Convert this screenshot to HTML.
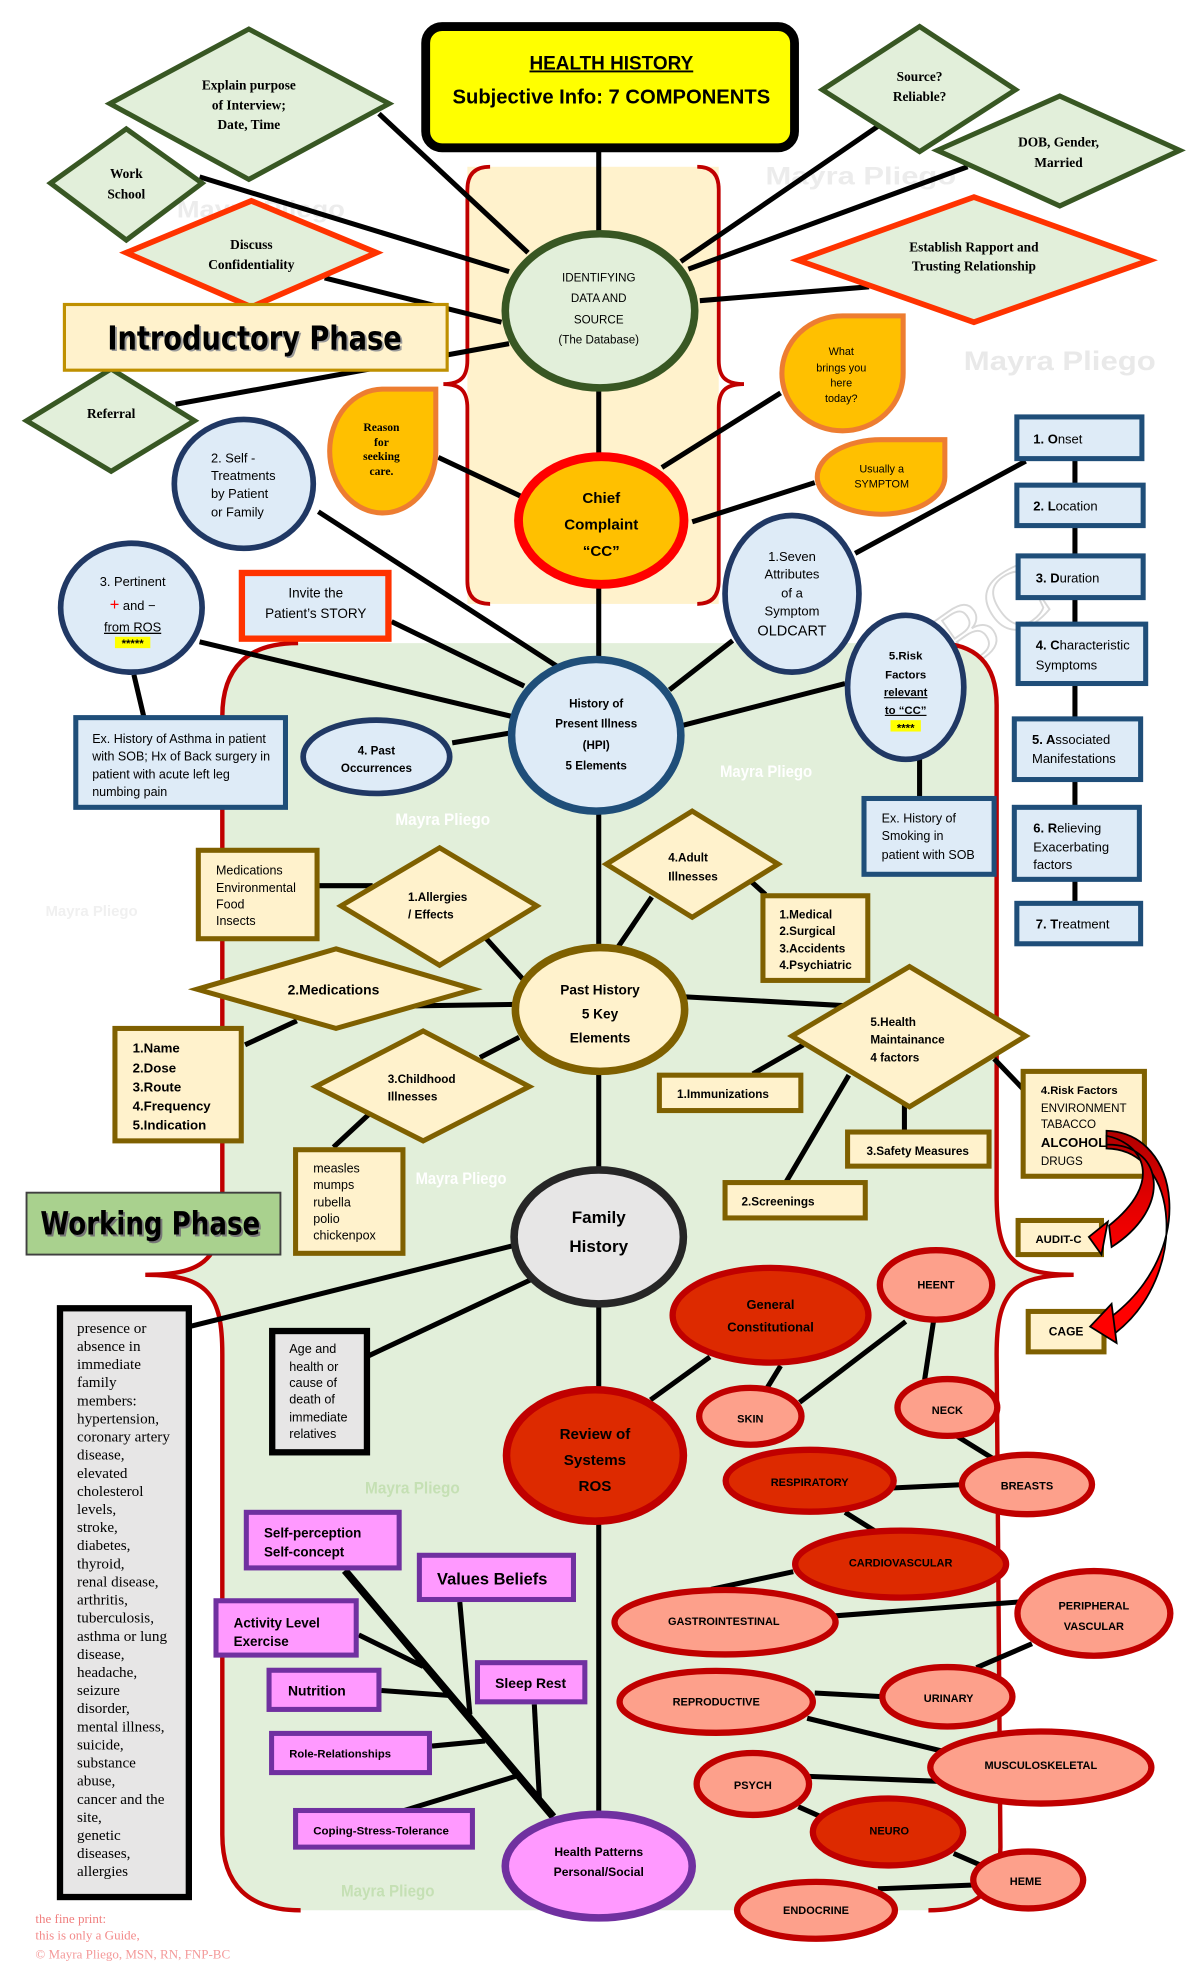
<!DOCTYPE html>
<html><head><meta charset="utf-8"><style>
html,body{margin:0;padding:0;background:#fff;}
svg{display:block;}
text{font-family:"Liberation Sans",sans-serif;fill:#000;}
.sr{font-family:"Liberation Serif",serif;}
.c{text-anchor:middle;}
.b{font-weight:bold;}
</style></head><body>
<svg width="1200" height="1976" viewBox="0 0 950 1564" preserveAspectRatio="none" xmlns="http://www.w3.org/2000/svg">
<defs>
<linearGradient id="ag" x1="0" y1="895" x2="0" y2="1000" gradientUnits="userSpaceOnUse">
<stop offset="0" stop-color="#B00000"/>
<stop offset="0.5" stop-color="#E00000"/>
<stop offset="1" stop-color="#FF0000"/>
</linearGradient>
</defs>
<rect x="0" y="0" width="950" height="1564" fill="#fff"/>

<!-- faint watermarks on white -->
<g font-weight="bold">
<text x="606" y="146" font-size="20" style="fill:#ececec" textLength="151" lengthAdjust="spacingAndGlyphs">Mayra Pliego</text>
<text x="763" y="293" font-size="21" style="fill:#e9e9e9" textLength="152" lengthAdjust="spacingAndGlyphs">Mayra Pliego</text>
<text x="140" y="172" font-size="19" style="fill:#ececec" textLength="133" lengthAdjust="spacingAndGlyphs">Mayra Pliego</text>
<text x="36" y="725" font-size="12" style="fill:#f0f0f0" textLength="73" lengthAdjust="spacingAndGlyphs">Mayra Pliego</text>
</g>
<text x="735" y="520" font-size="70" transform="rotate(-35 770 490)" style="fill:none;stroke:#d8d8d8;stroke-width:1.5" class="sr">BC</text>

<!-- beige top region -->
<rect x="370" y="132" width="199" height="346" fill="#FFF2CC"/>
<path d="M388,132 Q370,132 370,150 L370,285 C370,298 365,304 351,304 C365,304 370,310 370,323 L370,460 Q370,478 388,478" fill="none" stroke="#C00000" stroke-width="3"/>
<path d="M552,132 Q569,132 569,150 L569,285 C569,298 574,304 589,304 C574,304 569,310 569,323 L569,460 Q569,478 552,478" fill="none" stroke="#C00000" stroke-width="3"/>

<!-- green working region -->
<path d="M236,509 L740,509 Q789,509 789,558 L789,945 C789,995 800,1009 850,1009 C800,1009 789,1025 789,1072 L792,1462 Q792,1512 735,1512 L238,1512 Q176,1512 176,1452 L176,1072 C176,1025 165,1009 115,1009 C165,1009 176,995 176,945 L176,567 Q176,509 236,509 Z" fill="#E2EFDA"/>
<path d="M236,509 Q176,509 176,567 L176,945 C176,995 165,1009 115,1009 C165,1009 176,1025 176,1072 L176,1452 Q176,1512 238,1512" fill="none" stroke="#C00000" stroke-width="3.5"/>
<path d="M740,509 Q789,509 789,558 L789,945 C789,995 800,1009 850,1009 C800,1009 789,1025 789,1072 L792,1462 Q792,1512 735,1512" fill="none" stroke="#C00000" stroke-width="3.5"/>

<g font-weight="bold">
<text x="570" y="615" font-size="13" style="fill:#fff" textLength="73" lengthAdjust="spacingAndGlyphs">Mayra Pliego</text>
<text x="313" y="653" font-size="13" style="fill:#fff" textLength="75" lengthAdjust="spacingAndGlyphs">Mayra Pliego</text>
<text x="329" y="937" font-size="13" style="fill:#fff" textLength="72" lengthAdjust="spacingAndGlyphs">Mayra Pliego</text>
<text x="289" y="1182" font-size="13" style="fill:#c5e0b4" textLength="75" lengthAdjust="spacingAndGlyphs">Mayra Pliego</text>
<text x="270" y="1501" font-size="13" style="fill:#c5e0b4" textLength="74" lengthAdjust="spacingAndGlyphs">Mayra Pliego</text>
</g>

<!-- connector lines -->
<g stroke="#000" stroke-width="4" fill="none">
<line x1="474" y1="118" x2="474" y2="185"/>
<line x1="300" y1="90" x2="418" y2="200"/>
<line x1="158" y1="140" x2="403" y2="215"/>
<line x1="257" y1="220" x2="397" y2="255"/>
<line x1="139" y1="320" x2="403" y2="272"/>
<line x1="695" y1="100" x2="539" y2="207"/>
<line x1="766" y1="132" x2="545" y2="213"/>
<line x1="688" y1="227" x2="554" y2="238"/>
<line x1="474" y1="305" x2="474" y2="362"/>
<line x1="347" y1="362" x2="415" y2="394"/>
<line x1="618" y1="311" x2="524" y2="370"/>
<line x1="645" y1="382" x2="548" y2="413"/>
<line x1="474" y1="462" x2="474" y2="524"/>
<line x1="252" y1="405" x2="442" y2="528"/>
<line x1="158" y1="508" x2="405" y2="567"/>
<line x1="106" y1="534" x2="114" y2="568"/>
<line x1="310" y1="492" x2="415" y2="543"/>
<line x1="358" y1="588" x2="405" y2="580"/>
<line x1="580" y1="507" x2="530" y2="546"/>
<line x1="669" y1="541" x2="541" y2="574"/>
<line x1="728" y1="601" x2="728" y2="632"/>
<line x1="812" y1="365" x2="677" y2="438"/>
<line x1="851" y1="345" x2="851" y2="730"/>
<line x1="474" y1="640" x2="474" y2="750"/>
<line x1="252" y1="701" x2="295" y2="701"/>
<line x1="385" y1="743" x2="414" y2="775"/>
<line x1="266" y1="797" x2="408" y2="795"/>
<line x1="194" y1="827" x2="235" y2="808"/>
<line x1="380" y1="837" x2="411" y2="821"/>
<line x1="292" y1="882" x2="264" y2="908"/>
<line x1="516" y1="710" x2="489" y2="750"/>
<line x1="595" y1="698" x2="606" y2="708"/>
<line x1="543" y1="789" x2="669" y2="796"/>
<line x1="636" y1="827" x2="596" y2="850"/>
<line x1="672" y1="851" x2="622" y2="936"/>
<line x1="716" y1="872" x2="716" y2="896"/>
<line x1="787" y1="838" x2="810" y2="862"/>
<line x1="474" y1="848" x2="474" y2="926"/>
<line x1="150" y1="1050" x2="406" y2="986"/>
<line x1="292" y1="1073" x2="420" y2="1013"/>
<line x1="474" y1="1032" x2="474" y2="1100"/>
<line x1="515" y1="1108" x2="562" y2="1074"/>
<line x1="474" y1="1204" x2="474" y2="1436"/>
<line x1="618" y1="1081" x2="607" y2="1099"/>
<line x1="717" y1="1046" x2="633" y2="1110"/>
<line x1="739" y1="1046" x2="732" y2="1092"/>
<line x1="758" y1="1137" x2="787" y2="1155"/>
<line x1="700" y1="1178" x2="765" y2="1175"/>
<line x1="669" y1="1197" x2="693" y2="1212"/>
<line x1="628" y1="1244" x2="563" y2="1258"/>
<line x1="660" y1="1279" x2="806" y2="1268"/>
<line x1="817" y1="1301" x2="773" y2="1320"/>
<line x1="645" y1="1340" x2="700" y2="1343"/>
<line x1="639" y1="1360" x2="746" y2="1386"/>
<line x1="640" y1="1406" x2="746" y2="1410"/>
<line x1="632" y1="1430" x2="650" y2="1438"/>
<line x1="755" y1="1467" x2="778" y2="1477"/>
<line x1="695" y1="1495" x2="771" y2="1492"/>
<line x1="273" y1="1243" x2="438" y2="1438" stroke-width="6"/>
<line x1="284" y1="1294" x2="335" y2="1319"/>
<line x1="364" y1="1268" x2="372" y2="1357"/>
<line x1="302" y1="1338" x2="356" y2="1342"/>
<line x1="423" y1="1349" x2="427" y2="1423"/>
<line x1="342" y1="1382" x2="384" y2="1378"/>
<line x1="320" y1="1433" x2="408" y2="1406"/>
</g>

<!-- title -->
<rect x="337" y="21" width="292" height="96" rx="13" fill="#FFFF00" stroke="#000" stroke-width="7"/>
<text x="484" y="55" font-size="15" class="c b" style="text-decoration:underline">HEALTH HISTORY</text>
<text x="484" y="82" font-size="16" class="c b">Subjective Info: 7 COMPONENTS</text>

<!-- green diamonds -->
<g fill="#E2EFDA" stroke="#385723" stroke-width="4">
<polygon points="197,23 308,82 197,142 87,82"/>
<polygon points="100,102 160,145 100,190 40,145"/>
<polygon points="88,292 154,333 88,373 21,333"/>
<polygon points="728,21 804,71 728,120 651,71"/>
<polygon points="839,76 934,119 839,163 742,119"/>
</g>
<g fill="#E2EFDA" stroke="#FF3300" stroke-width="4.5">
<polygon points="199,159 298,200 199,243 100,200"/>
<polygon points="771,156 910,206 771,255 632,206"/>
</g>
<g class="sr" font-weight="bold" font-size="10.6" text-anchor="middle">
<text class="sr" x="197" y="71">Explain purpose</text>
<text class="sr" x="197" y="86.5">of Interview;</text>
<text class="sr" x="197" y="102">Date, Time</text>
<text class="sr" x="100" y="141">Work</text>
<text class="sr" x="100" y="157">School</text>
<text class="sr" x="199" y="197">Discuss</text>
<text class="sr" x="199" y="213">Confidentiality</text>
<text class="sr" x="88" y="331">Referral</text>
<text class="sr" x="728" y="64">Source?</text>
<text class="sr" x="728" y="80">Reliable?</text>
<text class="sr" x="838" y="116">DOB, Gender,</text>
<text class="sr" x="838" y="132">Married</text>
<text class="sr" x="771" y="199">Establish Rapport and</text>
<text class="sr" x="771" y="214">Trusting Relationship</text>
</g>

<!-- Introductory Phase -->
<rect x="51" y="241" width="303" height="52" fill="#FFF2CC" stroke="#BF9000" stroke-width="2.5"/>
<text x="86.5" y="278" font-size="26" font-weight="bold" style="fill:#999;font-family:'DejaVu Sans',sans-serif" textLength="233" lengthAdjust="spacingAndGlyphs">Introductory Phase</text>
<text x="85" y="276.5" font-size="26" font-weight="bold" style="font-family:'DejaVu Sans',sans-serif" textLength="233" lengthAdjust="spacingAndGlyphs">Introductory Phase</text>

<!-- identifying circle -->
<ellipse cx="475" cy="246" rx="75" ry="61" fill="#E2EFDA" stroke="#385723" stroke-width="6"/>
<g font-size="9.2" text-anchor="middle">
<text x="474" y="223" class="c">IDENTIFYING</text>
<text x="474" y="239" class="c">DATA AND</text>
<text x="474" y="256" class="c">SOURCE</text>
<text x="474" y="272" class="c">(The Database)</text>
</g>

<!-- amber teardrops -->
<g fill="#FFC000" stroke="#ED7D31" stroke-width="4">
<path d="M345,308 L345,357 A42,49 0 0 1 303,406 A42,49 0 0 1 261,357 A42,49 0 0 1 303,308 Z"/>
<path d="M715,250 L715,295.5 A48,45.5 0 0 1 667,341 A48,45.5 0 0 1 619,295.5 A48,45.5 0 0 1 667,250 Z"/>
<path d="M748,348 L748,377.5 A50.5,29.5 0 0 1 697.5,407 A50.5,29.5 0 0 1 647,377.5 A50.5,29.5 0 0 1 697.5,348 Z"/>
</g>
<g font-size="9.2" font-weight="bold" text-anchor="middle">
<text class="sr c" x="302" y="341">Reason</text>
<text class="sr c" x="302" y="353">for</text>
<text class="sr c" x="302" y="364">seeking</text>
<text class="sr c" x="302" y="376">care.</text>
</g>
<g font-size="8.6" text-anchor="middle">
<text class="c" x="666" y="281">What</text>
<text class="c" x="666" y="294">brings you</text>
<text class="c" x="666" y="306">here</text>
<text class="c" x="666" y="318">today?</text>
<text class="c" x="698" y="374">Usually a</text>
<text class="c" x="698" y="386">SYMPTOM</text>
</g>

<!-- chief complaint -->
<ellipse cx="476" cy="412" rx="65.5" ry="50.5" fill="#FFC000" stroke="#FF0000" stroke-width="7"/>
<g font-size="12" font-weight="bold" text-anchor="middle">
<text class="c" x="476" y="398">Chief</text>
<text class="c" x="476" y="419">Complaint</text>
<text class="c" x="476" y="440">“CC”</text>
</g>

<!-- blue ellipses -->
<g fill="#DEEBF7" stroke="#203864" stroke-width="4.5">
<ellipse cx="193" cy="383" rx="55" ry="51"/>
<ellipse cx="104" cy="481" rx="56" ry="51"/>
<ellipse cx="627" cy="470" rx="53" ry="62"/>
<ellipse cx="717" cy="544" rx="46" ry="57"/>
<ellipse cx="298" cy="599" rx="58" ry="29"/>
</g>
<ellipse cx="472" cy="582" rx="67" ry="60" fill="#DEEBF7" stroke="#1F4E79" stroke-width="6"/>

<g font-size="10.2">
<text x="167" y="366">2. Self -</text>
<text x="167" y="380">Treatments</text>
<text x="167" y="394">by Patient</text>
<text x="167" y="409">or Family</text>
</g>
<rect x="91" y="504" width="28" height="9" fill="#FFFF00"/>
<g font-size="10.2" text-anchor="middle">
<text class="c" x="105" y="464">3. Pertinent</text>
<text class="c" x="105" y="483"><tspan style="fill:#FF0000" font-size="13">+</tspan> and −</text>
<text class="c" x="105" y="500" style="text-decoration:underline">from ROS</text>
<text class="c b" x="105" y="512" font-size="9">*****</text>
</g>
<g font-size="10.3" text-anchor="middle">
<text class="c" x="627" y="444">1.Seven</text>
<text class="c" x="627" y="458">Attributes</text>
<text class="c" x="627" y="473">of a</text>
<text class="c" x="627" y="487">Symptom</text>
<text class="c" x="627" y="503" font-size="11.5">OLDCART</text>
</g>
<rect x="705" y="570" width="24" height="9" fill="#FFFF00"/>
<g font-size="9" font-weight="bold" text-anchor="middle">
<text class="c b" x="717" y="522">5.Risk</text>
<text class="c b" x="717" y="537">Factors</text>
<text class="c b" x="717" y="551" style="text-decoration:underline">relevant</text>
<text class="c b" x="717" y="565" style="text-decoration:underline">to “CC”</text>
<text class="c b" x="717" y="579">****</text>
</g>
<g font-size="9.2" font-weight="bold" text-anchor="middle">
<text class="c b" x="298" y="597">4. Past</text>
<text class="c b" x="298" y="611">Occurrences</text>
<text class="c b" x="472" y="560">History of</text>
<text class="c b" x="472" y="576">Present Illness</text>
<text class="c b" x="472" y="593">(HPI)</text>
<text class="c b" x="472" y="609">5 Elements</text>
</g>

<!-- blue boxes -->
<g fill="#DEEBF7" stroke="#1F4E79" stroke-width="4">
<rect x="60" y="568" width="166" height="71"/>
<rect x="684" y="632" width="103" height="60"/>
<rect x="805" y="330" width="99" height="33"/>
<rect x="805" y="384" width="100" height="32"/>
<rect x="806" y="440" width="99" height="33"/>
<rect x="806" y="494" width="101" height="47"/>
<rect x="803" y="569" width="100" height="48"/>
<rect x="803" y="639" width="99" height="57"/>
<rect x="805" y="715" width="98" height="32"/>
</g>
<rect x="191.5" y="453.5" width="116" height="52" fill="#DEEBF7" stroke="#FF3300" stroke-width="5"/>
<g font-size="10.7" text-anchor="middle">
<text class="c" x="250" y="473">Invite the</text>
<text class="c" x="250" y="489">Patient’s STORY</text>
</g>
<g font-size="9.9">
<text x="73" y="588">Ex. History of Asthma in patient</text>
<text x="73" y="602">with SOB; Hx of Back surgery in</text>
<text x="73" y="616">patient with acute left leg</text>
<text x="73" y="630">numbing pain</text>
<text x="698" y="651">Ex. History of</text>
<text x="698" y="665">Smoking in</text>
<text x="698" y="680">patient with SOB</text>
</g>
<g font-size="10.3">
<text x="818" y="351"><tspan font-weight="bold">1. O</tspan>nset</text>
<text x="818" y="404"><tspan font-weight="bold">2. L</tspan>ocation</text>
<text x="820" y="461"><tspan font-weight="bold">3. D</tspan>uration</text>
<text x="820" y="514"><tspan font-weight="bold">4. C</tspan>haracteristic</text>
<text x="820" y="530">Symptoms</text>
<text x="817" y="589"><tspan font-weight="bold">5. A</tspan>ssociated</text>
<text x="817" y="604">Manifestations</text>
<text x="818" y="659"><tspan font-weight="bold">6. R</tspan>elieving</text>
<text x="818" y="674">Exacerbating</text>
<text x="818" y="688">factors</text>
<text x="820" y="735"><tspan font-weight="bold">7. T</tspan>reatment</text>
</g>

<!-- past history section -->
<g fill="#FFF2CC" stroke="#7F6000" stroke-width="4">
<polygon points="348,671 425,717 348,764 270,717"/>
<polygon points="266,751 375,783 266,814 156,783"/>
<polygon points="335,816 419,860 335,903 250,860"/>
<polygon points="548,642 616,684 548,726 480,684"/>
<polygon points="720,765 812,820 720,876 627,820"/>
<rect x="157" y="673" width="94" height="70"/>
<rect x="604" y="709" width="83" height="67"/>
<rect x="91" y="814" width="100" height="89"/>
<rect x="234" y="910" width="85" height="82"/>
<rect x="522" y="851" width="112" height="28"/>
<rect x="671" y="896" width="112" height="27"/>
<rect x="574" y="936" width="111" height="28"/>
<rect x="810" y="848" width="96" height="83"/>
<rect x="806" y="966" width="66" height="27"/>
<rect x="814" y="1038" width="60" height="32"/>
</g>
<ellipse cx="475" cy="799" rx="67" ry="49" fill="#FFF2CC" stroke="#7F6000" stroke-width="6"/>
<g font-size="10.8" font-weight="bold" text-anchor="middle">
<text class="c b" x="475" y="787">Past History</text>
<text class="c b" x="475" y="806">5 Key</text>
<text class="c b" x="475" y="825">Elements</text>
</g>
<g font-size="9.9">
<text x="171" y="692">Medications</text>
<text x="171" y="706">Environmental</text>
<text x="171" y="719">Food</text>
<text x="171" y="732">Insects</text>
<text x="248" y="928">measles</text>
<text x="248" y="941">mumps</text>
<text x="248" y="955">rubella</text>
<text x="248" y="968">polio</text>
<text x="248" y="981">chickenpox</text>
</g>
<g font-size="9.3" font-weight="bold">
<text x="323" y="713">1.Allergies</text>
<text x="323" y="727">/ Effects</text>
<text x="307" y="857">3.Childhood</text>
<text x="307" y="871">Illnesses</text>
<text x="529" y="682">4.Adult</text>
<text x="529" y="697">Illnesses</text>
<text x="617" y="727">1.Medical</text>
<text x="617" y="740">2.Surgical</text>
<text x="617" y="754">3.Accidents</text>
<text x="617" y="767">4.Psychiatric</text>
<text x="689" y="812">5.Health</text>
<text x="689" y="826">Maintainance</text>
<text x="689" y="840">4 factors</text>
<text x="536" y="869">1.Immunizations</text>
<text x="686" y="914">3.Safety Measures</text>
<text x="587" y="954">2.Screenings</text>
</g>
<text x="264" y="787" font-size="11" class="c b">2.Medications</text>
<g font-size="10.5" font-weight="bold">
<text x="105" y="833">1.Name</text>
<text x="105" y="849">2.Dose</text>
<text x="105" y="864">3.Route</text>
<text x="105" y="879">4.Frequency</text>
<text x="105" y="894">5.Indication</text>
</g>
<text x="824" y="866" font-size="8.9" font-weight="bold">4.Risk Factors</text>
<g font-size="9.2">
<text x="824" y="880">ENVIRONMENT</text>
<text x="824" y="893">TABACCO</text>
<text x="824" y="922">DRUGS</text>
</g>
<text x="824" y="908" font-size="10.5" font-weight="bold">ALCOHOL</text>
<text x="838" y="984" font-size="9" class="c b">AUDIT-C</text>
<text x="844" y="1057" font-size="9.5" class="c b">CAGE</text>

<!-- red curved arrows (filled block arrows) -->
<path d="M876,895 C935,897 948,990 880,1042 L883,1055 C941,1010 935,910 876,909 Z" fill="url(#ag)" stroke="#000" stroke-width="1.4"/>
<polygon points="863,1050 880,1032 884,1063" fill="#FF0000" stroke="#000" stroke-width="1.4"/>
<path d="M876,899 C905,905 922,935 878,970 L880,987 C930,955 920,905 876,906 Z" fill="url(#ag)" stroke="#000" stroke-width="1.4"/>
<polygon points="862,979 877,967 872,993" fill="#FF0000" stroke="#000" stroke-width="1.4"/>

<!-- working phase -->
<rect x="21" y="944" width="201" height="49" fill="#A9D18E" stroke="#404040" stroke-width="1.5"/>
<text x="33.5" y="978.5" font-size="25" font-weight="bold" style="fill:#777;font-family:'DejaVu Sans',sans-serif" textLength="174" lengthAdjust="spacingAndGlyphs">Working Phase</text>
<text x="32" y="977" font-size="25" font-weight="bold" style="font-family:'DejaVu Sans',sans-serif" textLength="174" lengthAdjust="spacingAndGlyphs">Working Phase</text>

<!-- family history -->
<ellipse cx="474" cy="979" rx="67" ry="53" fill="#E7E6E6" stroke="#262626" stroke-width="6"/>
<text x="474" y="968" font-size="13.5" class="c b">Family</text>
<text x="474" y="991" font-size="13.5" class="c b">History</text>

<rect x="47.5" y="1035.5" width="102" height="466" fill="#E7E6E6" stroke="#000" stroke-width="5"/>
<g class="sr" font-size="12">
<text class="sr" x="61" y="1055">presence or</text>
<text class="sr" x="61" y="1069.3">absence in</text>
<text class="sr" x="61" y="1083.7">immediate</text>
<text class="sr" x="61" y="1098">family</text>
<text class="sr" x="61" y="1112.3">members:</text>
<text class="sr" x="61" y="1126.7">hypertension,</text>
<text class="sr" x="61" y="1141">coronary artery</text>
<text class="sr" x="61" y="1155.3">disease,</text>
<text class="sr" x="61" y="1169.7">elevated</text>
<text class="sr" x="61" y="1184">cholesterol</text>
<text class="sr" x="61" y="1198.3">levels,</text>
<text class="sr" x="61" y="1212.7">stroke,</text>
<text class="sr" x="61" y="1227">diabetes,</text>
<text class="sr" x="61" y="1241.3">thyroid,</text>
<text class="sr" x="61" y="1255.7">renal disease,</text>
<text class="sr" x="61" y="1270">arthritis,</text>
<text class="sr" x="61" y="1284.3">tuberculosis,</text>
<text class="sr" x="61" y="1298.7">asthma or lung</text>
<text class="sr" x="61" y="1313">disease,</text>
<text class="sr" x="61" y="1327.3">headache,</text>
<text class="sr" x="61" y="1341.7">seizure</text>
<text class="sr" x="61" y="1356">disorder,</text>
<text class="sr" x="61" y="1370.3">mental illness,</text>
<text class="sr" x="61" y="1384.7">suicide,</text>
<text class="sr" x="61" y="1399">substance</text>
<text class="sr" x="61" y="1413.3">abuse,</text>
<text class="sr" x="61" y="1427.7">cancer and the</text>
<text class="sr" x="61" y="1442">site,</text>
<text class="sr" x="61" y="1456.3">genetic</text>
<text class="sr" x="61" y="1470.7">diseases,</text>
<text class="sr" x="61" y="1485">allergies</text>
</g>

<rect x="215.5" y="1053.5" width="75" height="96" fill="#E7E6E6" stroke="#000" stroke-width="5"/>
<g font-size="10">
<text x="229" y="1071">Age and</text>
<text x="229" y="1085">health or</text>
<text x="229" y="1098">cause of</text>
<text x="229" y="1111">death of</text>
<text x="229" y="1125">immediate</text>
<text x="229" y="1138">relatives</text>
</g>

<!-- ROS -->
<ellipse cx="471" cy="1152" rx="70" ry="52" fill="#DD2A00" stroke="#C00000" stroke-width="6"/>
<g font-size="12" font-weight="bold" text-anchor="middle">
<text class="c b" x="471" y="1139">Review of</text>
<text class="c b" x="471" y="1159.5">Systems</text>
<text class="c b" x="471" y="1180">ROS</text>
</g>
<g stroke="#C00000" stroke-width="5">
<ellipse cx="610" cy="1041" rx="77.5" ry="37.5" fill="#DD2A00"/>
<ellipse cx="741" cy="1017" rx="44.5" ry="27.5" fill="#FDA08B"/>
<ellipse cx="594" cy="1121" rx="40.5" ry="22.5" fill="#FDA08B"/>
<ellipse cx="750" cy="1114" rx="39.5" ry="22.5" fill="#FDA08B"/>
<ellipse cx="641" cy="1172" rx="66.5" ry="24.5" fill="#DD2A00"/>
<ellipse cx="813" cy="1175" rx="51.5" ry="23.5" fill="#FDA08B"/>
<ellipse cx="713" cy="1238" rx="83.5" ry="26.5" fill="#DD2A00"/>
<ellipse cx="574" cy="1284" rx="87.5" ry="25.5" fill="#FDA08B"/>
<ellipse cx="866" cy="1277" rx="60.5" ry="33.5" fill="#FDA08B"/>
<ellipse cx="750" cy="1343" rx="51.5" ry="23.5" fill="#FDA08B"/>
<ellipse cx="567" cy="1347" rx="76.5" ry="24.5" fill="#FDA08B"/>
<ellipse cx="824" cy="1399" rx="87.5" ry="28.5" fill="#FDA08B"/>
<ellipse cx="596" cy="1412" rx="44.5" ry="24.5" fill="#FDA08B"/>
<ellipse cx="703" cy="1450" rx="59.5" ry="26.5" fill="#DD2A00"/>
<ellipse cx="814" cy="1488" rx="43.5" ry="22.5" fill="#FDA08B"/>
<ellipse cx="646" cy="1512" rx="62.5" ry="22.5" fill="#FDA08B"/>
</g>
<g font-size="10.2" font-weight="bold" text-anchor="middle">
<text class="c b" x="610" y="1036">General</text>
<text class="c b" x="610" y="1054">Constitutional</text>
</g>
<g font-size="8.7" font-weight="bold" text-anchor="middle">
<text class="c b" x="741" y="1020">HEENT</text>
<text class="c b" x="594" y="1126">SKIN</text>
<text class="c b" x="750" y="1119">NECK</text>
<text class="c b" x="641" y="1176">RESPIRATORY</text>
<text class="c b" x="813" y="1179">BREASTS</text>
<text class="c b" x="713" y="1240">CARDIOVASCULAR</text>
<text class="c b" x="573" y="1286">GASTROINTESTINAL</text>
<text class="c b" x="866" y="1274">PERIPHERAL</text>
<text class="c b" x="866" y="1290">VASCULAR</text>
<text class="c b" x="751" y="1347">URINARY</text>
<text class="c b" x="567" y="1350">REPRODUCTIVE</text>
<text class="c b" x="824" y="1400">MUSCULOSKELETAL</text>
<text class="c b" x="596" y="1416">PSYCH</text>
<text class="c b" x="704" y="1452">NEURO</text>
<text class="c b" x="812" y="1492">HEME</text>
<text class="c b" x="646" y="1515">ENDOCRINE</text>
</g>

<!-- health patterns -->
<g fill="#FF99FF" stroke="#7030A0" stroke-width="4">
<rect x="195" y="1197" width="121" height="44"/>
<rect x="332" y="1231" width="122" height="35"/>
<rect x="171" y="1267" width="111" height="43"/>
<rect x="213" y="1322" width="87" height="31"/>
<rect x="378" y="1316" width="85" height="31"/>
<rect x="215" y="1372" width="125" height="31"/>
<rect x="234" y="1433" width="140" height="29"/>
</g>
<ellipse cx="474" cy="1477" rx="74" ry="41" fill="#FF99FF" stroke="#7030A0" stroke-width="6"/>
<g font-weight="bold">
<text x="209" y="1217" font-size="10.6">Self-perception</text>
<text x="209" y="1232" font-size="10.6">Self-concept</text>
<text x="346" y="1254" font-size="13">Values Beliefs</text>
<text x="185" y="1288" font-size="10.6">Activity Level</text>
<text x="185" y="1303" font-size="10.6">Exercise</text>
<text x="228" y="1342" font-size="11">Nutrition</text>
<text x="392" y="1336" font-size="11">Sleep Rest</text>
<text x="229" y="1391" font-size="8.9">Role-Relationships</text>
<text x="248" y="1452" font-size="9.1">Coping-Stress-Tolerance</text>
<text x="474" y="1469" font-size="9.6" class="c">Health Patterns</text>
<text x="474" y="1485" font-size="9.6" class="c">Personal/Social</text>
</g>

<!-- fine print -->
<g class="sr" font-size="10.3" style="fill:#F38A8A">
<text class="sr" x="28" y="1522" style="fill:#F07E7E">the fine print:</text>
<text class="sr" x="28" y="1535" style="fill:#F38A8A">this is only a Guide,</text>
<text class="sr" x="28" y="1550" style="fill:#F49A9A">©  Mayra Pliego, MSN, RN, FNP-BC</text>
</g>
</svg>
</body></html>
